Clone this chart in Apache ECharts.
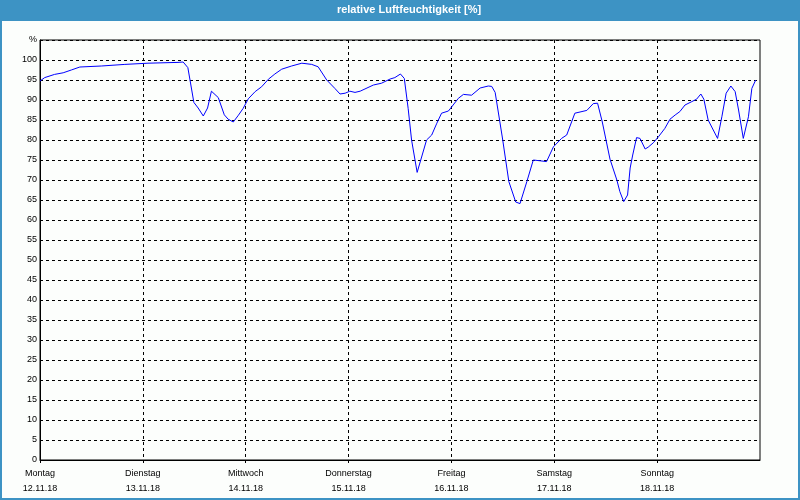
<!DOCTYPE html>
<html>
<head>
<meta charset="utf-8">
<script src="https://cdn.jsdelivr.net/npm/echarts@6/dist/echarts.min.js"></script>
<style>
html,body{margin:0;padding:0;background:#fcfefc;}
#chart{width:800px;height:500px;}
</style>
</head>
<body>
<div id="chart"></div>
<script>
// Hours since Monday 12.11.18 00:00
const hours = [0,1.1,3.4,5.4,7.3,9.3,14.3,19.8,25.2,32.2,33.4,34.5,35.0,35.9,36.9,38.1,39.1,40.0,41.6,43.0,43.9,45.1,46.3,47.4,48.6,50.2,51.7,53.3,54.8,56.4,58.7,61.1,63.4,64.9,66.9,68.8,70.0,71.2,72.3,73.5,74.7,77.8,79.7,81.7,82.8,84.1,85.0,85.9,86.7,88.0,90.2,91.4,92.6,93.7,95.3,96.4,97.6,98.8,100.7,102.7,104.6,105.4,106.2,107.9,109.4,111.0,112.0,113.6,115.1,116.7,118.2,119.8,121.7,122.9,124.8,126.0,127.6,129.1,130.1,131.2,133.0,134.6,135.3,136.2,137.1,137.7,138.3,139.2,140.0,141.2,141.9,143.1,144.3,145.8,147.0,148.2,149.3,150.5,152.1,153.2,154.2,154.9,155.9,158.1,159.1,160.1,161.2,162.2,163.0,164.1,165.3,166.1,167.0];
const humidity = [94.75,95.6,96.4,96.8,97.5,98.25,98.5,98.9,99.2,99.4,99.5,98.1,95.0,89.4,88.0,86.0,88.0,92.2,90.6,86.3,85.2,84.5,86.2,87.9,90.3,92.1,93.3,95.2,96.5,97.7,98.5,99.2,98.9,98.3,95.0,92.9,91.5,91.7,92.2,91.9,92.2,93.75,94.2,95.25,95.6,96.5,95.4,87.9,80.0,71.9,80.0,81.25,84.2,86.7,87.25,88.75,90.4,91.4,91.2,93.0,93.5,93.4,91.9,80.5,69.6,64.5,64.1,69.6,75.0,74.8,74.6,78.3,80.4,81.25,86.7,87.0,87.4,89.1,89.2,84.5,75.2,70.0,67.1,64.6,66.25,73.0,76.25,80.6,80.4,77.75,78.2,79.3,80.8,82.9,85.2,86.25,87.1,88.75,89.6,90.2,91.5,90.2,85.0,80.4,85.8,91.7,93.5,92.1,87.5,80.4,85.8,92.9,95.0];
const dayNames = ['Montag','Dienstag','Mittwoch','Donnerstag','Freitag','Samstag','Sonntag'];
const dayDates = ['12.11.18','13.11.18','14.11.18','15.11.18','16.11.18','17.11.18','18.11.18'];
const dayStartHours = [0,24,48,72,96,120,144];
const titleText = 'relative Luftfeuchtigkeit [%]';

const chart = echarts.init(document.getElementById('chart'), null, {renderer:'canvas'});
const font = "'Liberation Sans', Arial, sans-serif";
chart.setOption({
  animation:false,
  backgroundColor:'#fcfefc',
  graphic:[
    {type:'rect', left:0, top:0, shape:{width:800, height:21}, style:{fill:'#3d93c4'}, z:10},
    {type:'rect', shape:{x:1,y:1,width:798,height:498}, style:{fill:'none', stroke:'#3d93c4', lineWidth:2}, z:10},
    {type:'text', x:409, y:10, style:{text:titleText, fill:'#fff', font:"bold 11px 'Liberation Sans', Arial, sans-serif", textAlign:'center', textVerticalAlign:'middle'}, z:11}
  ],
  grid:{left:40, right:40, top:40, bottom:40, show:true, borderColor:'#000', borderWidth:1, backgroundColor:'transparent'},
  xAxis:{
    type:'value', min:0, max:168, interval:24,
    axisLine:{show:true, lineStyle:{color:'#000', width:1}},
    axisTick:{show:true, length:3, customValues:dayStartHours, lineStyle:{color:'#000', type:'dashed'}},
    splitLine:{show:true, lineStyle:{color:'#000', type:[3,3], width:1}},
    axisLabel:{
      margin:6, color:'#000', fontSize:9, fontFamily:font, lineHeight:15,
      customValues:dayStartHours,
      formatter:function(v){ const i=Math.round(v/24); return i<dayNames.length ? dayNames[i]+'\n'+dayDates[i] : ''; }
    }
  },
  yAxis:{
    type:'value', min:0, max:105, interval:5,
    axisLine:{show:true, lineStyle:{color:'#000', width:1}},
    axisTick:{show:false},
    splitLine:{show:true, lineStyle:{color:'#000', type:[3,3], width:1}},
    axisLabel:{
      margin:3, color:'#000', fontSize:9, fontFamily:font,
      formatter:function(v){ return v===105 ? '%' : String(v); }
    }
  },
  series:[{
    type:'line', showSymbol:false, symbol:'none',
    data:hours.map((h,i)=>[h, humidity[i]]),
    lineStyle:{color:'#0000ff', width:1},
    z:5
  }]
});
</script>
</body>
</html>
